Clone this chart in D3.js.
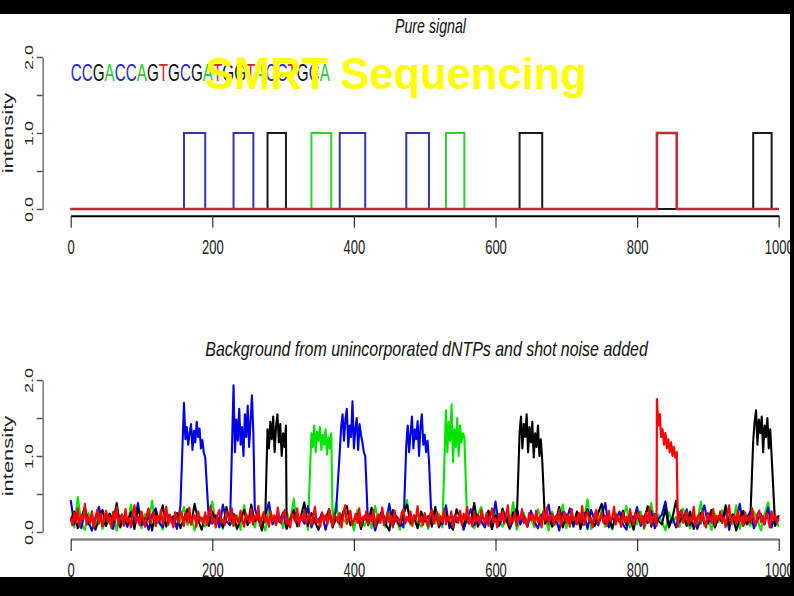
<!DOCTYPE html>
<html>
<head>
<meta charset="utf-8">
<script src="https://cdn.jsdelivr.net/npm/d3@7"></script>
<style>
  body { margin: 0; background: #000; }
  svg { display: block; }
</style>
</head>
<body>
<div id="chart"></div>
<script>
// SMRT sequencing slide: pure signal vs noisy signal
var svgWidth = 794;
var svgHeight = 596;

// data
var xTicks = [0, 200, 400, 600, 800, 1000];
var yTicks = [0, 0.5, 1, 1.5, 2];
var sequence = "CCGACCAGTGCGATGGTACCTGCA";

// incorporation pulses (base, start, end); noisy values every 2 units
var pulseBase = ["C", "C", "G", "A", "C", "C", "A", "G", "T", "G"];
var pulseStart = [160, 230, 278, 340, 380, 474, 530, 634, 828, 964];
var pulseEnd = [190, 258, 304, 368, 416, 506, 556, 666, 856, 990];
var pulseStep = 2;
var pulseValues = [
  [1.70, 1.22, 1.38, 1.15, 1.30, 1.42, 1.08, 1.33, 1.18, 1.45, 1.25, 1.36, 1.10, 1.21, 1.04, 0.98],
  [1.93, 1.05, 1.48, 1.20, 1.62, 1.15, 1.38, 1.00, 1.55, 1.25, 1.66, 1.12, 1.45, 1.80, 1.30],
  [1.35, 1.10, 1.45, 1.22, 1.52, 1.05, 1.38, 1.55, 1.18, 1.42, 1.00, 1.30, 1.12, 1.40],
  [1.30, 1.12, 1.40, 1.05, 1.32, 1.20, 1.38, 1.08, 1.28, 1.15, 1.35, 1.02, 1.25, 1.10, 1.30],
  [1.05, 1.38, 1.55, 1.20, 1.48, 1.62, 1.12, 1.40, 1.25, 1.72, 1.10, 1.35, 1.50, 1.08, 1.42, 1.28, 1.18, 1.05, 1.00],
  [1.15, 1.40, 1.05, 1.30, 1.52, 1.10, 1.35, 1.22, 1.46, 1.00, 1.38, 1.55, 1.15, 1.28, 1.05, 1.20, 0.95],
  [1.60, 1.05, 1.45, 1.20, 1.68, 0.92, 1.35, 1.12, 1.50, 1.00, 1.40, 1.18, 1.30, 1.25],
  [1.30, 1.52, 1.10, 1.42, 1.25, 1.55, 1.05, 1.38, 1.18, 1.45, 0.98, 1.30, 1.12, 1.40, 1.00, 1.22, 0.95],
  [1.75, 1.40, 1.55, 1.25, 1.35, 1.15, 1.30, 1.10, 1.22, 1.05, 1.18, 1.00, 1.12, 0.98, 1.05],
  [1.20, 1.45, 1.60, 1.15, 1.48, 1.30, 1.52, 1.05, 1.40, 1.25, 1.50, 1.10, 1.35, 1.00]
];

// background from unincorporated dNTPs (C, A, G every 5 units, T every 2.5)
var bgStep = { C: 5, A: 5, G: 5, T: 2.5 };
var bgC = [
  0.42,0.10,0.21,0.05,0.28,0.13,0.02,0.19,0.33,0.08,
  0.16,0.24,0.04,0.30,0.11,0.20,0.07,0.26,0.14,0.38,
  0.09,0.18,0.03,0.23,0.31,0.12,0.06,0.27,0.15,0.21,
  0.04,0.35,0.10,0.19,0.08,0.25,0.13,0.02,0.29,0.17,
  0.11,0.22,0.06,0.36,0.14,0.09,0.24,0.03,0.18,0.27,
  0.12,0.07,0.31,0.16,0.05,0.22,0.39,0.10,0.20,0.13,
  0.26,0.04,0.17,0.29,0.08,0.21,0.11,0.34,0.06,0.19,
  0.14,0.25,0.03,0.22,0.10,0.30,0.16,0.07,0.27,0.12,
  0.20,0.05,0.33,0.15,0.09,0.24,0.02,0.18,0.28,0.11,
  0.37,0.08,0.21,0.14,0.06,0.26,0.17,0.31,0.04,0.19,
  0.12,0.23,0.07,0.29,0.15,0.10,0.35,0.05,0.20,0.13,
  0.25,0.03,0.18,0.30,0.09,0.22,0.14,0.06,0.27,0.11,
  0.40,0.08,0.19,0.24,0.04,0.16,0.32,0.10,0.21,0.07,
  0.28,0.13,0.05,0.23,0.17,0.36,0.09,0.20,0.02,0.26,
  0.14,0.31,0.07,0.18,0.11,0.25,0.04,0.29,0.15,0.09,
  0.22,0.38,0.06,0.19,0.13,0.27,0.10,0.03,0.24,0.16,
  0.33,0.08,0.21,0.12,0.28,0.05,0.17,0.23,0.40,0.10,
  0.19,0.06,0.26,0.14,0.30,0.09,0.22,0.04,0.18,0.35,
  0.11,0.25,0.07,0.20,0.15,0.29,0.03,0.23,0.13,0.37,
  0.08,0.19,0.27,0.05,0.16,0.24,0.10,0.32,0.06,0.21,
  0.14
];
var bgA = [
  0.20,0.06,0.46,0.12,0.03,0.25,0.15,0.08,0.31,0.04,
  0.18,0.11,0.27,0.02,0.22,0.14,0.07,0.36,0.10,0.19,
  0.05,0.24,0.13,0.41,0.08,0.17,0.03,0.28,0.12,0.21,
  0.06,0.15,0.33,0.09,0.20,0.02,0.26,0.13,0.07,0.23,
  0.40,0.11,0.18,0.04,0.29,0.14,0.08,0.22,0.03,0.35,
  0.10,0.19,0.06,0.25,0.13,0.02,0.31,0.16,0.09,0.21,
  0.05,0.27,0.12,0.44,0.07,0.18,0.24,0.03,0.15,0.30,
  0.09,0.20,0.04,0.26,0.13,0.38,0.07,0.17,0.11,0.23,
  0.02,0.29,0.14,0.08,0.21,0.05,0.34,0.12,0.19,0.06,
  0.25,0.10,0.16,0.03,0.28,0.42,0.09,0.22,0.13,0.07,
  0.18,0.04,0.31,0.11,0.24,0.06,0.15,0.37,0.08,0.20,
  0.02,0.26,0.12,0.17,0.05,0.23,0.33,0.10,0.19,0.04,
  0.28,0.14,0.07,0.21,0.11,0.39,0.03,0.16,0.25,0.09,
  0.18,0.06,0.30,0.13,0.22,0.02,0.27,0.10,0.15,0.36,
  0.05,0.20,0.12,0.24,0.08,0.17,0.43,0.04,0.22,0.11,
  0.29,0.07,0.16,0.03,0.25,0.13,0.19,0.34,0.06,0.21,
  0.10,0.27,0.04,0.18,0.38,0.09,0.23,0.14,0.02,0.26,
  0.12,0.20,0.07,0.31,0.15,0.05,0.22,0.11,0.40,0.08,
  0.17,0.03,0.24,0.13,0.29,0.06,0.19,0.10,0.35,0.04,
  0.21,0.14,0.08,0.27,0.16,0.02,0.23,0.39,0.11,0.18,
  0.07
];
var bgG = [
  0.15,0.27,0.05,0.19,0.33,0.10,0.22,0.03,0.17,0.29,
  0.08,0.24,0.13,0.38,0.06,0.20,0.11,0.26,0.04,0.31,
  0.16,0.09,0.23,0.02,0.28,0.14,0.35,0.07,0.21,0.12,
  0.25,0.05,0.18,0.30,0.10,0.37,0.15,0.03,0.22,0.08,
  0.27,0.13,0.19,0.06,0.33,0.11,0.24,0.04,0.17,0.29,
  0.09,0.36,0.14,0.21,0.02,0.26,0.12,0.18,0.07,0.31,
  0.23,0.05,0.16,0.28,0.10,0.20,0.39,0.08,0.25,0.13,
  0.03,0.22,0.17,0.30,0.06,0.19,0.11,0.27,0.34,0.09,
  0.15,0.24,0.04,0.21,0.13,0.32,0.07,0.18,0.26,0.10,
  0.02,0.29,0.16,0.08,0.23,0.36,0.12,0.19,0.05,0.27,
  0.14,0.21,0.09,0.33,0.06,0.17,0.25,0.11,0.03,0.30,
  0.18,0.08,0.24,0.13,0.38,0.07,0.20,0.15,0.28,0.04,
  0.22,0.10,0.31,0.16,0.05,0.26,0.12,0.19,0.35,0.09,
  0.17,0.03,0.24,0.29,0.11,0.20,0.07,0.14,0.33,0.06,
  0.23,0.16,0.10,0.27,0.04,0.19,0.30,0.13,0.08,0.25,
  0.37,0.11,0.18,0.05,0.22,0.14,0.28,0.09,0.20,0.03,
  0.26,0.12,0.17,0.34,0.07,0.24,0.15,0.10,0.31,0.06,
  0.19,0.41,0.13,0.22,0.08,0.27,0.04,0.18,0.25,0.11,
  0.16,0.29,0.06,0.21,0.12,0.35,0.09,0.23,0.02,0.17,
  0.28,0.10,0.20,0.14,0.33,0.05,0.24,0.13,0.19,0.08,
  0.22
];
var bgT = [
  0.18,0.09,0.25,0.13,0.31,0.07,0.22,0.16,0.37,0.10,
  0.20,0.12,0.27,0.06,0.19,0.29,0.11,0.24,0.08,0.17,
  0.28,0.14,0.21,0.05,0.26,0.15,0.33,0.09,0.19,0.23,
  0.08,0.30,0.13,0.18,0.06,0.24,0.35,0.12,0.20,0.09,
  0.27,0.16,0.07,0.22,0.31,0.12,0.18,0.26,0.08,0.21,
  0.14,0.29,0.10,0.19,0.33,0.09,0.23,0.15,0.06,0.26,
  0.17,0.12,0.28,0.20,0.08,0.25,0.13,0.32,0.10,0.18,
  0.22,0.07,0.27,0.15,0.19,0.11,0.26,0.09,0.21,0.34,
  0.13,0.18,0.06,0.23,0.29,0.12,0.16,0.09,0.27,0.20,
  0.14,0.31,0.08,0.22,0.17,0.11,0.28,0.15,0.07,0.24,
  0.19,0.12,0.30,0.10,0.21,0.16,0.34,0.08,0.18,0.26,
  0.13,0.20,0.07,0.27,0.14,0.22,0.09,0.32,0.17,0.11,
  0.23,0.29,0.10,0.16,0.06,0.25,0.19,0.13,0.31,0.08,
  0.21,0.15,0.28,0.11,0.18,0.24,0.09,0.20,0.33,0.12,
  0.17,0.07,0.26,0.14,0.22,0.10,0.30,0.16,0.08,0.23,
  0.19,0.13,0.25,0.06,0.21,0.35,0.11,0.18,0.28,0.09,
  0.15,0.24,0.12,0.31,0.08,0.20,0.16,0.27,0.10,0.22,
  0.14,0.29,0.07,0.19,0.23,0.12,0.32,0.09,0.17,0.26,
  0.13,0.21,0.06,0.28,0.15,0.18,0.10,0.25,0.30,0.11,
  0.20,0.14,0.27,0.08,0.22,0.17,0.34,0.12,0.19,0.09,
  0.25,0.16,0.07,0.23,0.29,0.11,0.18,0.26,0.09,0.21,
  0.13,0.30,0.10,0.20,0.15,0.27,0.06,0.22,0.18,0.12,
  0.28,0.09,0.24,0.16,0.33,0.11,0.19,0.07,0.26,0.14,
  0.21,0.10,0.29,0.17,0.12,0.25,0.08,0.20,0.31,0.13,
  0.18,0.06,0.24,0.15,0.27,0.11,0.22,0.35,0.09,0.19,
  0.14,0.26,0.08,0.21,0.17,0.30,0.12,0.18,0.07,0.25,
  0.16,0.23,0.10,0.28,0.13,0.20,0.06,0.27,0.15,0.32,
  0.11,0.19,0.24,0.09,0.21,0.14,0.29,0.08,0.17,0.26,
  0.12,0.22,0.07,0.30,0.16,0.19,0.10,0.25,0.13,0.34,
  0.09,0.20,0.27,0.14,0.18,0.06,0.23,0.29,0.11,0.17,
  0.25,0.12,0.21,0.08,0.28,0.15,0.19,0.33,0.10,0.22,
  0.16,0.07,0.26,0.13,0.20,0.11,0.30,0.17,0.09,0.24,
  0.18,0.27,0.12,0.21,0.06,0.25,0.14,0.32,0.10,0.19,
  0.23,0.08,0.28,0.15,0.17,0.11,0.26,0.20,0.13,0.31,
  0.09,0.22,0.16,0.07,0.24,0.29,0.12,0.18,0.27,0.10,
  0.20,0.14,0.33,0.08,0.19,0.23,0.11,0.28,0.15,0.06,
  0.25,0.17,0.12,0.30,0.09,0.21,0.16,0.27,0.13,0.19,
  0.07,0.24,0.35,0.11,0.18,0.22,0.10,0.29,0.14,0.20,
  0.08,0.26,0.15,0.19,0.12,0.31,0.17,0.09,0.23,0.28,
  0.13,0.21,0.10,0.25,0.18,0.06,0.27,0.16,0.22,0.12,
  0.19
];
var background = { C: bgC, A: bgA, G: bgG, T: bgT };

// colours per base
var topColor = { C: "#3434b4", A: "#30d030", G: "#1a1a1a", T: "#b8303a" };
var botColor = { C: "#0000e8", A: "#00e400", G: "#000000", T: "#ff0000" };
var seqColor = { C: "#2828d0", A: "#22cc22", G: "#111111", T: "#dd2222" };

var fontFam = "'Liberation Sans', Arial, Helvetica, sans-serif";
var squish = 0.65;

var svg = d3.select("#chart")
  .append("svg")
  .attr("width", svgWidth)
  .attr("height", svgHeight);

svg.append("rect")
  .attr("width", svgWidth)
  .attr("height", svgHeight)
  .attr("fill", "#ffffff");

var x = d3.scaleLinear().domain([0, 1000]).range([70.7, 778.7]);
var yTop = d3.scaleLinear().domain([0, 2]).range([209, 57]);
var yBot = d3.scaleLinear().domain([0, 2]).range([532, 380]);

// build the step trace of one base for the pure signal
function pureTrace(b) {
  var pts = [[0, 0]];
  pulseBase.forEach(function(pb, i) {
    if (pb !== b) return;
    pts.push([pulseStart[i], 0], [pulseStart[i], 1], [pulseEnd[i], 1], [pulseEnd[i], 0]);
  });
  pts.push([1000, 0]);
  return pts;
}

// background values with the base's own pulses put in place
function noisyTrace(b) {
  var bg = background[b];
  var pts = [];
  var done = {};
  bg.forEach(function(v, k) {
    var xv = k * bgStep[b];
    var hit = -1;
    pulseBase.forEach(function(pb, i) {
      if (pb === b && xv >= pulseStart[i] && xv <= pulseEnd[i]) hit = i;
    });
    if (hit < 0) {
      pts.push([xv, v]);
    } else if (!done[hit]) {
      done[hit] = true;
      pulseValues[hit].forEach(function(pv, j) {
        pts.push([pulseStart[hit] + j * pulseStep, pv]);
      });
    }
  });
  return pts;
}

// shared axis drawing, R style
function drawAxes(yScale, axisY, axisColor, axisWidth) {
  var xAxis = svg.append("g")
    .attr("transform", `translate(0, ${axisY})`)
    .call(d3.axisBottom(x).tickValues(xTicks).tickSize(12).tickSizeOuter(0)
      .tickFormat(d3.format("d")));
  xAxis.select(".domain").attr("stroke", axisColor).attr("stroke-width", axisWidth);
  xAxis.selectAll(".tick line").attr("stroke", "#333").attr("stroke-width", 1.2);
  xAxis.selectAll(".tick text")
    .attr("y", 38)
    .attr("dy", null)
    .attr("fill", "#222")
    .attr("transform", `scale(${squish},1)`)
    .style("font-family", fontFam)
    .style("font-size", "20px");

  var yAxis = svg.append("g")
    .attr("transform", "translate(42.7, 0)")
    .call(d3.axisLeft(yScale).tickValues(yTicks).tickSize(6).tickSizeOuter(0)
      .tickFormat(function(d) { return d % 1 === 0 ? d.toFixed(1) : ""; }));
  yAxis.select(".domain").attr("stroke", "#777").attr("stroke-width", 1.5);
  yAxis.selectAll(".tick line").attr("stroke", "#555").attr("stroke-width", 1.5);
  yAxis.selectAll(".tick text")
    .attr("x", 0)
    .attr("dy", null)
    .attr("text-anchor", "middle")
    .attr("fill", "#222")
    .attr("transform", `translate(-9.5,0) scale(${squish},1) rotate(-90)`)
    .style("font-family", fontFam)
    .style("font-size", "18px");

  var mid = (yScale(0) + yScale(2)) / 2;
  svg.append("text")
    .attr("transform", `translate(13, ${mid}) scale(${squish},1) rotate(-90)`)
    .attr("text-anchor", "middle")
    .attr("fill", "#222")
    .style("font-family", fontFam)
    .style("font-size", "22px")
    .text("intensity");
}

// squeeze a text so it spans a given width
function fitText(sel, cx, width, anchor) {
  var w = sel.node().getComputedTextLength();
  var s = width / w;
  sel.attr("transform", `translate(${cx}, ${sel.attr("data-y")}) scale(${s},1)`)
    .attr("text-anchor", anchor);
}

function title(txt, cx, baseY, width) {
  var t = svg.append("text")
    .attr("data-y", baseY)
    .attr("fill", "#111")
    .style("font-family", fontFam)
    .style("font-style", "italic")
    .style("font-size", "20px")
    .text(txt);
  fitText(t, cx, width, "middle");
}

// ---------- top panel: pure signal ----------
drawAxes(yTop, 215.7, "#000", 2);
title("Pure signal", 430.5, 33, 71);

var lineTop = d3.line()
  .x(d => x(d[0]))
  .y(d => yTop(d[1]));

svg.append("g").selectAll("path")
  .data(["C", "A", "G", "T"])
  .enter()
  .append("path")
  .attr("d", b => lineTop(pureTrace(b)))
  .attr("fill", "none")
  .attr("stroke", b => topColor[b])
  .attr("stroke-width", b => b === "T" ? 2.6 : 2);

// base calls written over the plot
var seq = svg.append("text")
  .attr("data-y", 80.5)
  .style("font-family", fontFam)
  .style("font-size", "24px");
seq.selectAll("tspan")
  .data(sequence.split(""))
  .enter()
  .append("tspan")
  .attr("fill", d => seqColor[d])
  .text(d => d);
fitText(seq, 70.7, 257, "start");

// ---------- bottom panel: noise added ----------
drawAxes(yBot, 539, "#888", 2.5);
title("Background from unincorporated dNTPs and shot noise added", 426.5, 355.5, 443);

var lineBot = d3.line()
  .x(d => x(d[0]))
  .y(d => yBot(d[1]));

svg.append("g").selectAll("path")
  .data(["A", "C", "G", "T"])
  .enter()
  .append("path")
  .attr("d", b => lineBot(noisyTrace(b)))
  .attr("fill", "none")
  .attr("stroke", b => botColor[b])
  .attr("stroke-width", b => b === "T" ? 2.2 : 2.1)
  .attr("stroke-linejoin", "round");

// slide heading over the chart
svg.append("text")
  .attr("x", 205)
  .attr("y", 88.5)
  .attr("fill", "#ffff00")
  .style("font-family", fontFam)
  .style("font-weight", "bold")
  .style("font-size", "43.5px")
  .text("SMRT Sequencing");

// black frame of the slide
svg.append("rect").attr("x", 0).attr("y", 0).attr("width", svgWidth).attr("height", 14).attr("fill", "#000");
svg.append("rect").attr("x", 790).attr("y", 0).attr("width", 4).attr("height", svgHeight).attr("fill", "#000");
svg.append("rect").attr("x", 0).attr("y", 577).attr("width", svgWidth).attr("height", 19).attr("fill", "#000");
</script>
</body>
</html>
